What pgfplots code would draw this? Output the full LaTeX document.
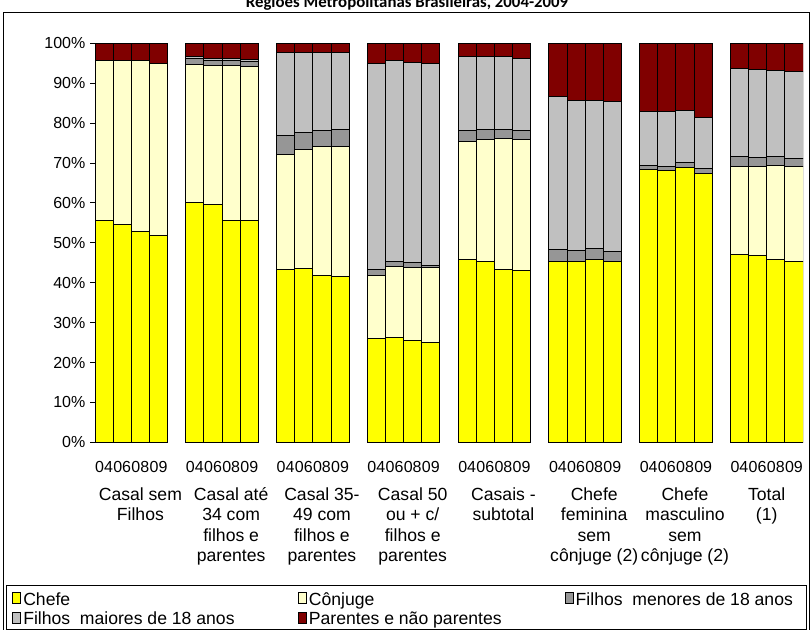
\documentclass[border=0pt]{standalone}
\usepackage{pgfplots}
\pgfplotsset{compat=1.18}
\usepackage{pgfplotstable}
\usepackage{fontspec}
\setmainfont{Liberation Sans}
\newfontfamily\titlefont{Carlito}

\definecolor{cChefe}{HTML}{FFFF00}
\definecolor{cConj}{HTML}{FFFFCC}
\definecolor{cMen}{HTML}{969696}
\definecolor{cMai}{HTML}{C0C0C0}
\definecolor{cPar}{HTML}{800000}

% composition of households (%), bars for 2004, 2006, 2008, 2009 in each group
\pgfplotstableread{
x  chefe conj men mai  par
0  55.7  39.9 0   0    4.4
1  54.5  41.1 0   0    4.4
2  52.9  42.8 0   0    4.3
3  51.8  43.2 0   0    5.0
5  60.1  34.5 1.5 0.5  3.4
6  59.6  34.8 1.4 0.4  3.8
7  55.5  38.9 1.3 0.4  3.9
8  55.6  38.6 1.3 0.5  4.0
10 43.2  29.0 4.6 20.8 2.4
11 43.5  29.9 4.2 20.1 2.3
12 41.8  32.4 3.9 19.7 2.2
13 41.5  32.7 4.1 19.5 2.2
15 25.9  15.9 1.4 51.8 5.0
16 26.3  17.8 1.3 50.3 4.3
17 25.6  18.3 1.2 50.1 4.8
18 25.1  18.7 0.6 50.6 5.0
20 45.9  29.5 2.7 18.5 3.4
21 45.4  30.5 2.4 18.4 3.3
22 43.4  32.8 2.2 18.3 3.3
23 43.0  32.9 2.2 18.1 3.8
25 45.2  0    3.1 38.3 13.4
26 45.4  0    2.7 37.5 14.4
27 45.9  0    2.7 37.0 14.4
28 45.4  0    2.4 37.5 14.7
30 68.4  0    0.9 13.7 17.0
31 68.2  0    1.0 13.6 17.2
32 68.9  0    1.2 13.1 16.8
33 67.4  0    1.3 12.8 18.5
35 47.1  21.9 2.6 22.0 6.4
36 46.9  22.1 2.4 22.0 6.6
37 45.7  23.7 2.3 21.5 6.8
38 45.2  23.8 2.2 21.8 7.0
}\dados

\pgfplotsset{
  /pgfplots/ybar legend/.style={
    /pgfplots/legend image code/.code={%
      \draw[##1,/tikz/.cd,line width=0.6pt] (0pt,2.4pt) rectangle (6.6pt,9.0pt);}},
}

\begin{document}
\begin{tikzpicture}
\begin{scope}[x=0.75pt,y=-0.75pt]
  \useasboundingbox (0,0) rectangle (812,630);
  \node[anchor=base,inner sep=0pt,font=\titlefont\bfseries\fontsize{12.6}{15}\selectfont]
    at (407,7.5) {Regiões Metropolitanas Brasileiras, 2004-2009};
  \draw[line width=0.75pt] (3,12.7) rectangle (809.5,640);
  \draw[line width=0.75pt] (6,585.5) rectangle (806,629);
\end{scope}

\begin{axis}[
  at={(71.25pt,-331.725pt)}, anchor=south west,
  scale only axis, width=531pt, height=299.25pt,
  ybar stacked, bar width=1,
  xmin=-0.5, xmax=38.5, ymin=0, ymax=100,
  axis lines*=left, axis line style={-, line width=0.75pt},
  x axis line style={draw=none},
  tick align=outside, major tick length=3.75pt,
  xtick style={draw=none},
  ytick style={black, line width=0.75pt},
  ytick={0,10,...,100},
  /pgf/number format/assume math mode=true,
  yticklabel={\pgfmathprintnumber{\tick}\%},
  tick label style={font=\fontsize{12}{14}\selectfont},
  xtick={0,1,2,3,5,6,7,8,10,11,12,13,15,16,17,18,20,21,22,23,25,26,27,28,30,31,32,33,35,36,37,38},
  xticklabels={04,06,08,09,04,06,08,09,04,06,08,09,04,06,08,09,04,06,08,09,04,06,08,09,04,06,08,09,04,06,08,09},
  xticklabel style={inner sep=0pt, anchor=north, yshift=-10pt},
  extra x ticks={2,7,12,17,22,27,32,36.5},
  extra x tick labels={{Casal sem\\Filhos},{Casal até\\34 com\\filhos e\\parentes},{Casal 35-\\49 com\\filhos e\\parentes},{Casal 50\\ou + c/\\filhos e\\parentes},{Casais -\\subtotal},{Chefe\\feminina\\sem\\cônjuge (2)},{Chefe\\masculino\\sem\\cônjuge (2)},{Total\\(1)}},
  extra x tick style={tick style={draw=none},
    xticklabel style={align=center, inner sep=0pt, anchor=north, yshift=-19.8pt,
      font=\fontsize{13.2}{15.4}\selectfont}},
  every axis plot/.append style={draw=black, line width=0.75pt},
  legend columns=3,
  legend cell align=left,
  legend style={at={(axis description cs:-0.1172,-0.3747)}, anchor=north west,
    draw=none, fill=none, inner sep=0pt, column sep=0pt, row sep=2.5pt,
    nodes={inner sep=0pt, text height=9.4pt, text depth=2.7pt,
      font=\fontsize{13.2}{15}\selectfont}},
]
\addplot[fill=cChefe] table[x=x,y=chefe]{\dados};
\addlegendentry{\makebox[207.5pt][l]{\hspace{1.5pt}Chefe}}
\addplot[fill=cConj] table[x=x,y=conj]{\dados};
\addlegendentry{\makebox[193.3pt][l]{\hspace{1.5pt}Cônjuge}}
\addplot[fill=cMen] table[x=x,y=men]{\dados};
\addlegendentry{\hspace{1.5pt}Filhos\ \ menores de 18 anos}
\addplot[fill=cMai] table[x=x,y=mai]{\dados};
\addlegendentry{\makebox[207.5pt][l]{\hspace{1.5pt}Filhos\ \ maiores de 18 anos}}
\addplot[fill=cPar] table[x=x,y=par]{\dados};
\addlegendentry{\makebox[193.3pt][l]{\hspace{1.5pt}Parentes e não parentes}}
\end{axis}
\end{tikzpicture}
\end{document}
